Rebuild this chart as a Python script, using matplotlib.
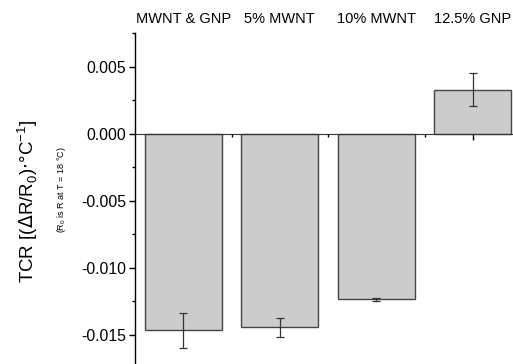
import numpy as np
from matplotlib import pyplot as plt
from matplotlib.ticker import MultipleLocator, FixedLocator

plt.rcParams['font.family'] = ['Liberation Sans', 'DejaVu Sans']

samples = ['MWNT & GNP', '5% MWNT', '10% MWNT', '12.5% GNP']
tcr = [-0.0147, -0.01446, -0.01237, 0.00328]
tcr_err = [0.00127, 0.00069, 0.0001, 0.0012]

fig = plt.figure(figsize=(5.13, 3.64), dpi=100)
ax = fig.add_axes([135/513, 0, 386/513, 331/364])

x = np.arange(1, len(samples) + 1)
ax.bar(x, tcr, width=0.8, color='#cccccc', edgecolor='#444444', lw=1.0, zorder=2)
ax.errorbar(x, tcr, yerr=tcr_err, fmt='none', ecolor='#333333', elinewidth=0.9,
            capsize=3, capthick=0.9, zorder=3)

ax.set_xlim(0.5, 4.5)
ax.set_ylim(-0.0172, 0.0075)

ax.spines['top'].set_visible(False)
ax.spines['right'].set_visible(False)
ax.spines['bottom'].set_position(('data', 0))
ax.spines['bottom'].set_color('#333333')
ax.spines['left'].set_linewidth(1.0)

ax.xaxis.set_major_locator(FixedLocator(x))
ax.xaxis.set_minor_locator(FixedLocator(x[:-1] + 0.5))
ax.tick_params(axis='x', which='major', direction='out', length=4.5, width=1,
               labelbottom=False)
ax.tick_params(axis='x', which='minor', direction='out', length=2.5, width=1)

ax.yaxis.set_major_locator(MultipleLocator(0.005))
ax.yaxis.set_minor_locator(MultipleLocator(0.0025))
ax.yaxis.set_major_formatter(plt.FormatStrFormatter('%.3f'))
ax.tick_params(axis='y', which='major', direction='out', length=4.5, width=1,
               labelsize=11.3, pad=2)
ax.tick_params(axis='y', which='minor', direction='out', length=2.5, width=1)

top = ax.secondary_xaxis('top')
top.set_xticks(x)
top.set_xticklabels(samples, fontsize=10.5)
top.tick_params(length=0, pad=5)
top.spines['top'].set_visible(False)

fig.text(28/513, 1 - 201/364, r'TCR [($\Delta$R/R$_\mathregular{0}$)$\cdot$°C$^\mathregular{-1}$]',
         rotation=90, fontsize=13.5, ha='center', va='center')
fig.text(62/513, 1 - 190/364, r'(R$_\mathregular{0}$ is R at T = 18 °C)',
         rotation=90, fontsize=6.5, ha='center', va='center')

fig.savefig('out.png', dpi=100)
